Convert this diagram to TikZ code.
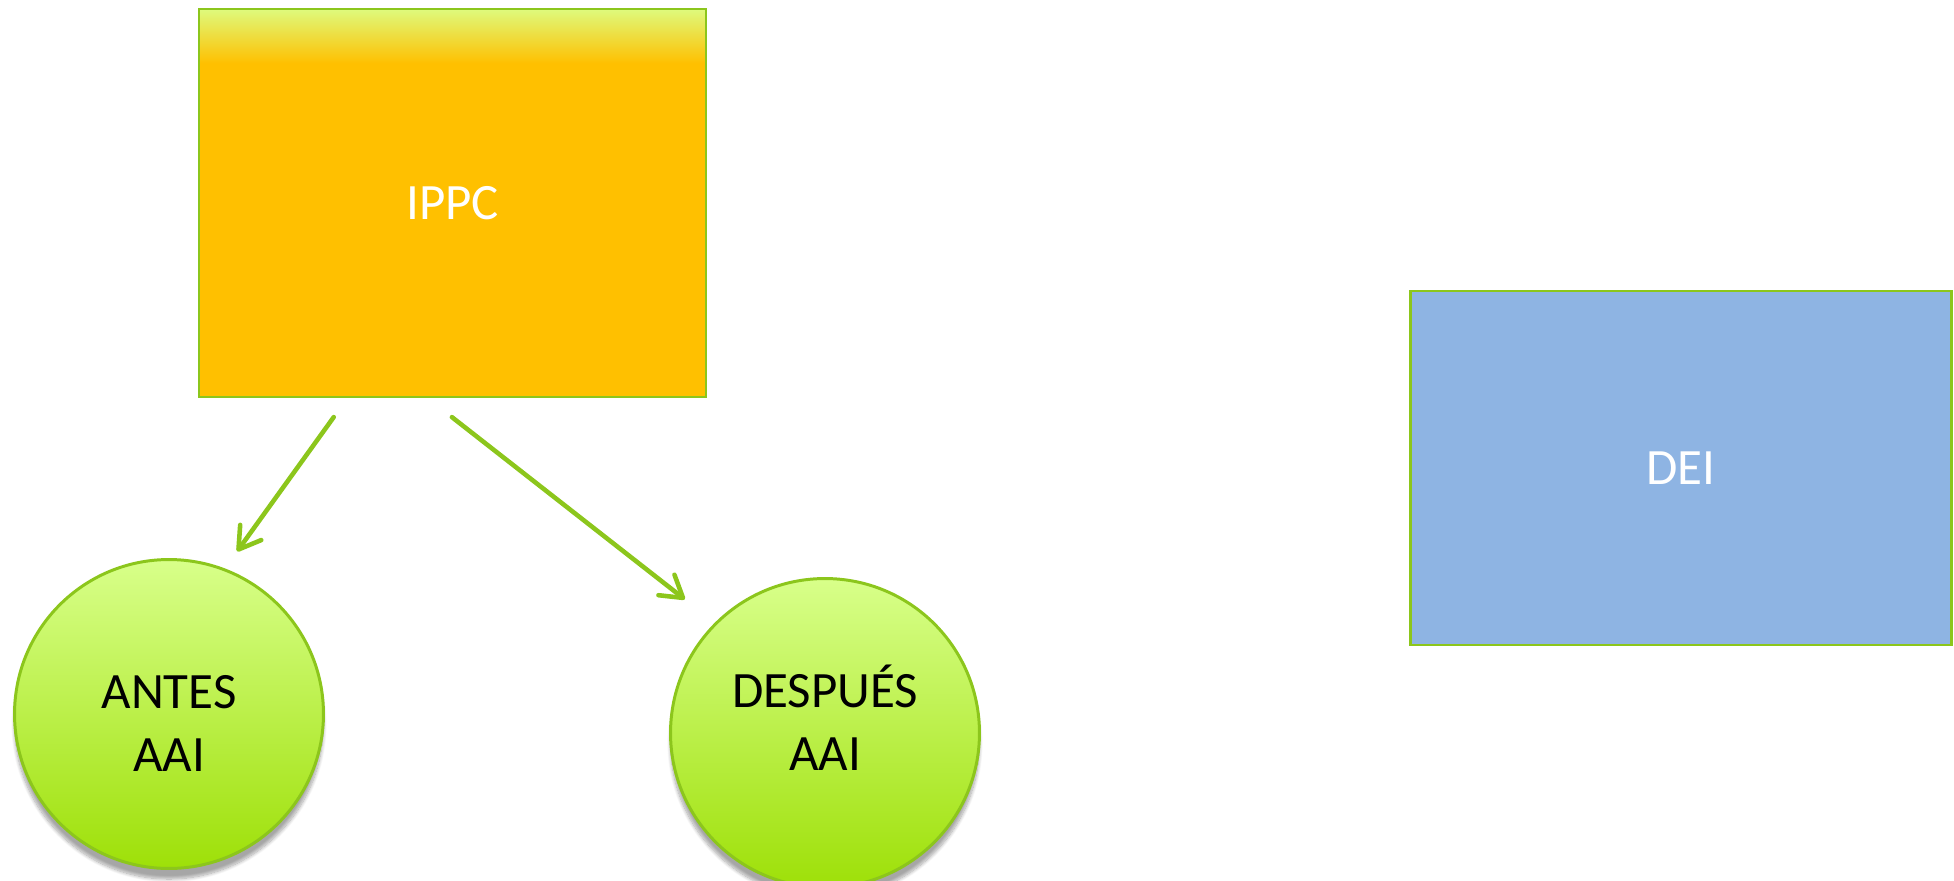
\documentclass[tikz,border=0pt]{standalone}
\usepackage{fontspec}
\setmainfont{Carlito}
\usepackage{tikz}
\usetikzlibrary{arrows.meta, shadows.blur}

\definecolor{leaf}{RGB}{140,198,28}
\definecolor{amber}{RGB}{255,192,0}
\definecolor{sprout}{RGB}{222,250,125}
\definecolor{sky}{RGB}{142,180,227}
\definecolor{limetop}{RGB}{216,255,138}
\definecolor{limebot}{RGB}{158,224,8}

% orange fill that fades to green at the top edge
\pgfdeclareverticalshading{ippcfade}{100bp}{color(0bp)=(amber); color(68bp)=(amber); color(75bp)=(sprout); color(100bp)=(sprout)}

\begin{document}
\begin{tikzpicture}[x=0.02cm, y=-0.02cm,
      every node/.append style={font=\fontsize{29}{36}\selectfont, align=center},
      every label/.append style={text=black},
      link/.style={draw=leaf, line width=2.6pt, line cap=round,
        -{Straight Barb[length=0.42cm, width=0.52cm, round]}}]
    \tikzstyle{panel} = [draw=leaf, line width=1.2pt, text=white, rectangle]
    \tikzstyle{stage} = [circle, draw=leaf, line width=1.7pt, minimum size=6.18cm,
      top color=limetop, bottom color=limebot,
      blur shadow={shadow xshift=0pt, shadow yshift=-6pt, shadow blur steps=10, shadow opacity=35}]
    \useasboundingbox (0,0) rectangle (1954,880);
    \node (IPPC) [panel, shading=ippcfade, minimum width=10.14cm, minimum height=7.76cm] at (452.5,203) {IPPC};
    \node (DEI) [panel, fill=sky, line width=1.6pt, minimum width=10.82cm, minimum height=7.08cm] at (1681,468) {DEI};
    \node (antes) [stage, label={[yshift=-0.19cm]center:ANTES\\AAI}] at (169,714) {};
    \node (despues) [stage, label={[yshift=0.3cm]center:DESPUÉS\\AAI}] at (825,733) {};
    \draw[link, shorten <=0.47cm, shorten >=0.42cm] ([xshift=2.99cm]IPPC.south west) -- (antes.69);
    \draw[link, shorten <=0.62cm, shorten >=0.76cm] ([xshift=-0.5cm]IPPC.south) -- (despues.135);
\end{tikzpicture}
\end{document}
